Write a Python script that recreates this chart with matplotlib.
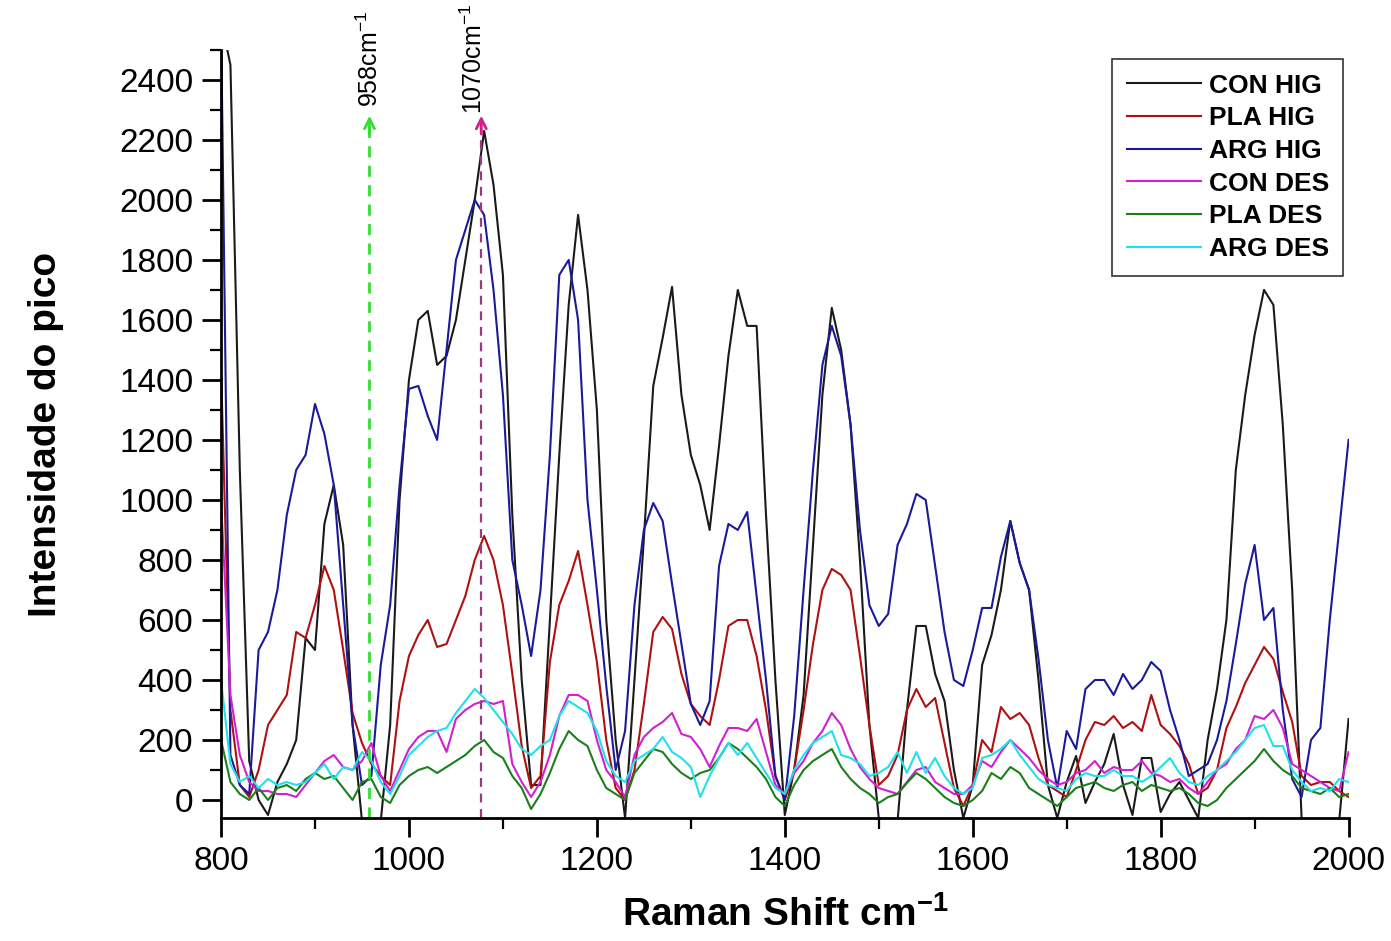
import numpy as np
import matplotlib
matplotlib.use("Agg")
from matplotlib import pyplot as plt
from matplotlib.ticker import MultipleLocator

plt.rcParams['font.family'] = ['Liberation Sans', 'DejaVu Sans']
plt.rcParams['mathtext.fontset'] = 'custom'
plt.rcParams['mathtext.rm'] = 'Liberation Sans'
plt.rcParams['mathtext.bf'] = 'Liberation Sans:bold'

# Raman shift grid (cm-1), one reading every 10 cm-1
shift = np.arange(800, 2001, 10)

con_hig = [2600, 2450, 1100, 130, 0, -50, 60, 120, 200, 540,
           500, 920, 1050, 850, 250, -70, -70, -70, 250, 1000,
           1400, 1600, 1630, 1450, 1480, 1600, 1800, 2000, 2230, 2050,
           1750, 950, 400, 50, 50, 600, 1150, 1650, 1950, 1700,
           1300, 600, 200, -60, 400, 870, 1380, 1540, 1710, 1350,
           1150, 1050, 900, 1180, 1480, 1700, 1580, 1580, 950, 400,
           -50, 100, 350, 850, 1350, 1640, 1500, 1250, 800, 250,
           -60, -70, -70, 300, 580, 580, 420, 330, 100, -60,
           50, 450, 550, 700, 930, 790, 700, 400, 50, -60,
           60, 147, -10, 60, 120, 220, 50, -50, 140, 140,
           -40, 20, 60, 0, -60, 200, 370, 600, 1100, 1350,
           1550, 1700, 1650, 1250, 700, -60, -70, -70, -70, -70,
           270]

pla_hig = [1440, 300, 50, 10, 100, 250, 300, 350, 560, 540,
           650, 780, 700, 500, 290, 190, 120, 80, 50, 330,
           480, 550, 600, 510, 520, 600, 680, 800, 880, 800,
           650, 420, 180, 40, 80, 460, 650, 730, 830, 650,
           460, 200, 40, 0, 100, 320, 560, 610, 570, 420,
           320, 280, 250, 400, 580, 600, 600, 480, 300, 80,
           0, 100, 300, 520, 700, 770, 750, 700, 480, 250,
           50, 80, 150, 300, 370, 310, 340, 190, 40, -20,
           50, 200, 160, 310, 270, 290, 250, 140, 50, 30,
           10, 100, 200, 260, 250, 280, 240, 260, 230, 350,
           250, 220, 180, 120, 20, 40, 100, 240, 310, 390,
           450, 510, 470, 360, 260, 80, 50, 60, 60, 30,
           10]

arg_hig = [2600, 150, 50, 20, 500, 560, 700, 950, 1100, 1150,
           1320, 1220, 1050, 650, 250, 50, 80, 450, 650, 1050,
           1370, 1380, 1280, 1200, 1500, 1800, 1900, 2000, 1950, 1700,
           1350, 800, 650, 480, 700, 1150, 1750, 1800, 1600, 1000,
           700, 380, 100, 230, 650, 900, 990, 930, 720, 520,
           320, 250, 330, 780, 920, 900, 960, 680, 400, 80,
           0, 280, 700, 1100, 1450, 1580, 1480, 1250, 900, 650,
           580, 620, 850, 920, 1020, 1000, 780, 560, 400, 380,
           500, 640, 640, 810, 930, 790, 700, 470, 200, 40,
           230, 170, 370, 400, 400, 350, 420, 370, 400, 460,
           430, 300, 200, 80, 100, 120, 200, 330, 520, 720,
           850, 600, 640, 300, 70, 10, 200, 240, 600, 900,
           1200]

con_des = [1000, 350, 150, 60, 30, 30, 20, 20, 10, 50,
           90, 130, 150, 110, 100, 130, 190, 80, 30, 100,
           170, 210, 230, 230, 160, 270, 300, 320, 330, 320,
           330, 120, 60, 10, 60, 150, 280, 350, 350, 330,
           200, 100, 60, 10, 150, 210, 240, 260, 290, 220,
           210, 170, 110, 180, 240, 240, 230, 270, 160, 50,
           20, 90, 130, 190, 230, 290, 250, 170, 110, 70,
           40, 30, 20, 60, 100, 110, 60, 40, 20, 20,
           50, 130, 110, 160, 200, 170, 140, 100, 70, 50,
           60, 90, 100, 130, 90, 110, 100, 100, 130, 90,
           80, 60, 70, 40, 20, 60, 100, 120, 170, 200,
           280, 270, 300, 240, 120, 100, 80, 60, 40, 30,
           160]

pla_des = [200, 60, 20, 0, 40, 0, 40, 50, 30, 70,
           90, 70, 80, 40, 0, 60, 70, 10, -10, 50,
           80, 100, 110, 90, 110, 130, 150, 180, 200, 160,
           140, 80, 40, -30, 20, 90, 170, 230, 200, 180,
           100, 40, 20, 0, 90, 130, 170, 160, 120, 90,
           70, 90, 100, 140, 190, 170, 140, 110, 70, 10,
           -20, 50, 100, 130, 150, 170, 110, 70, 40, 20,
           -10, 10, 20, 57, 90, 70, 40, 10, -10, -20,
           0, 30, 90, 70, 110, 90, 40, 20, 0, -20,
           10, 40, 50, 60, 40, 30, 50, 60, 30, 50,
           40, 30, 40, 20, -10, -20, 0, 40, 70, 100,
           130, 170, 130, 100, 80, 40, 30, 20, 40, 10,
           20]

arg_des = [400, 120, 60, 80, 40, 70, 50, 60, 50, 60,
           90, 120, 70, 110, 100, 160, 130, 60, 20, 80,
           150, 180, 210, 230, 240, 290, 330, 370, 340, 300,
           260, 220, 170, 150, 180, 200, 280, 330, 310, 290,
           230, 130, 80, 60, 130, 150, 170, 210, 160, 140,
           110, 10, 80, 140, 190, 150, 190, 140, 90, 40,
           20, 100, 150, 190, 210, 230, 150, 140, 120, 80,
           90, 110, 160, 90, 160, 90, 140, 80, 40, 20,
           40, 140, 150, 170, 200, 150, 110, 70, 50, 40,
           30, 70, 90, 80, 80, 100, 80, 80, 60, 80,
           110, 140, 90, 60, 50, 80, 100, 130, 160, 200,
           240, 250, 180, 180, 100, 60, 30, 40, 30, 70,
           60]

labels = ['CON HIG', 'PLA HIG', 'ARG HIG', 'CON DES', 'PLA DES', 'ARG DES']
colors = ['#1a1a1a', '#b01010', '#1a1a9a', '#d020d0', '#1a801a', '#20e0ea']
series = [con_hig, pla_hig, arg_hig, con_des, pla_des, arg_des]

# marked bands
peak1, peak2 = 958, 1077
peak_top = 2290

fig = plt.figure(figsize=(13.91, 9.41), dpi=100)
ax = fig.add_axes([0.1589, 0.1307, 0.8106, 0.8163])

for y, c, lab in zip(series, colors, labels):
    ax.plot(shift, y, color=c, lw=1.5, label=lab)

# dashed markers with arrow heads
ax.plot([peak1, peak1], [-60, peak_top - 40], ls=(0, (4, 3)), color='#33dd33', lw=2)
ax.annotate('', xy=(peak1, peak_top), xytext=(peak1, peak_top - 80),
            arrowprops=dict(arrowstyle='->', color='#33dd33', lw=2, mutation_scale=18))
ax.plot([peak2, peak2], [-60, peak_top - 40], ls=(0, (4, 3)), color='#9a3a7a', lw=1.6)
ax.annotate('', xy=(peak2, peak_top), xytext=(peak2, peak_top - 80),
            arrowprops=dict(arrowstyle='->', color='#d0208a', lw=2, mutation_scale=18))
ax.text(peak1, peak_top + 20, '958cm$^{-1}$', rotation=90, ha='center', va='bottom',
        fontsize=18, clip_on=False)
ax.text(peak2 - 8, peak_top - 5, '1070cm$^{-1}$', rotation=90, ha='center', va='bottom',
        fontsize=18, clip_on=False)

ax.set_xlim(800, 2000)
ax.set_ylim(-60, 2500)
ax.xaxis.set_major_locator(MultipleLocator(200))
ax.xaxis.set_minor_locator(MultipleLocator(100))
ax.yaxis.set_major_locator(MultipleLocator(200))
ax.yaxis.set_minor_locator(MultipleLocator(100))
ax.set_yticks(np.arange(0, 2401, 200))

for s in ['top', 'right']:
    ax.spines[s].set_visible(False)
for s in ['left', 'bottom']:
    ax.spines[s].set_linewidth(2)
ax.tick_params(which='major', direction='out', length=14, width=2, labelsize=24, pad=6)
ax.tick_params(which='minor', direction='out', length=8, width=1.6)

ax.set_xlabel(r'Raman Shift cm$^{\mathbf{-1}}$', fontsize=28, fontweight='bold', labelpad=14)
ax.set_ylabel('Intensidade do pico', fontsize=28, fontweight='bold', labelpad=40)

leg = ax.legend(loc='upper right', bbox_to_anchor=(1.0, 0.995),
                prop={'weight': 'bold', 'size': 19}, frameon=True, fancybox=False,
                edgecolor='black', handlelength=2.8, labelspacing=0.33,
                borderpad=0.55, handletextpad=0.3, borderaxespad=0.2)
leg.get_frame().set_linewidth(1.2)

fig.savefig('out.png', dpi=100)
